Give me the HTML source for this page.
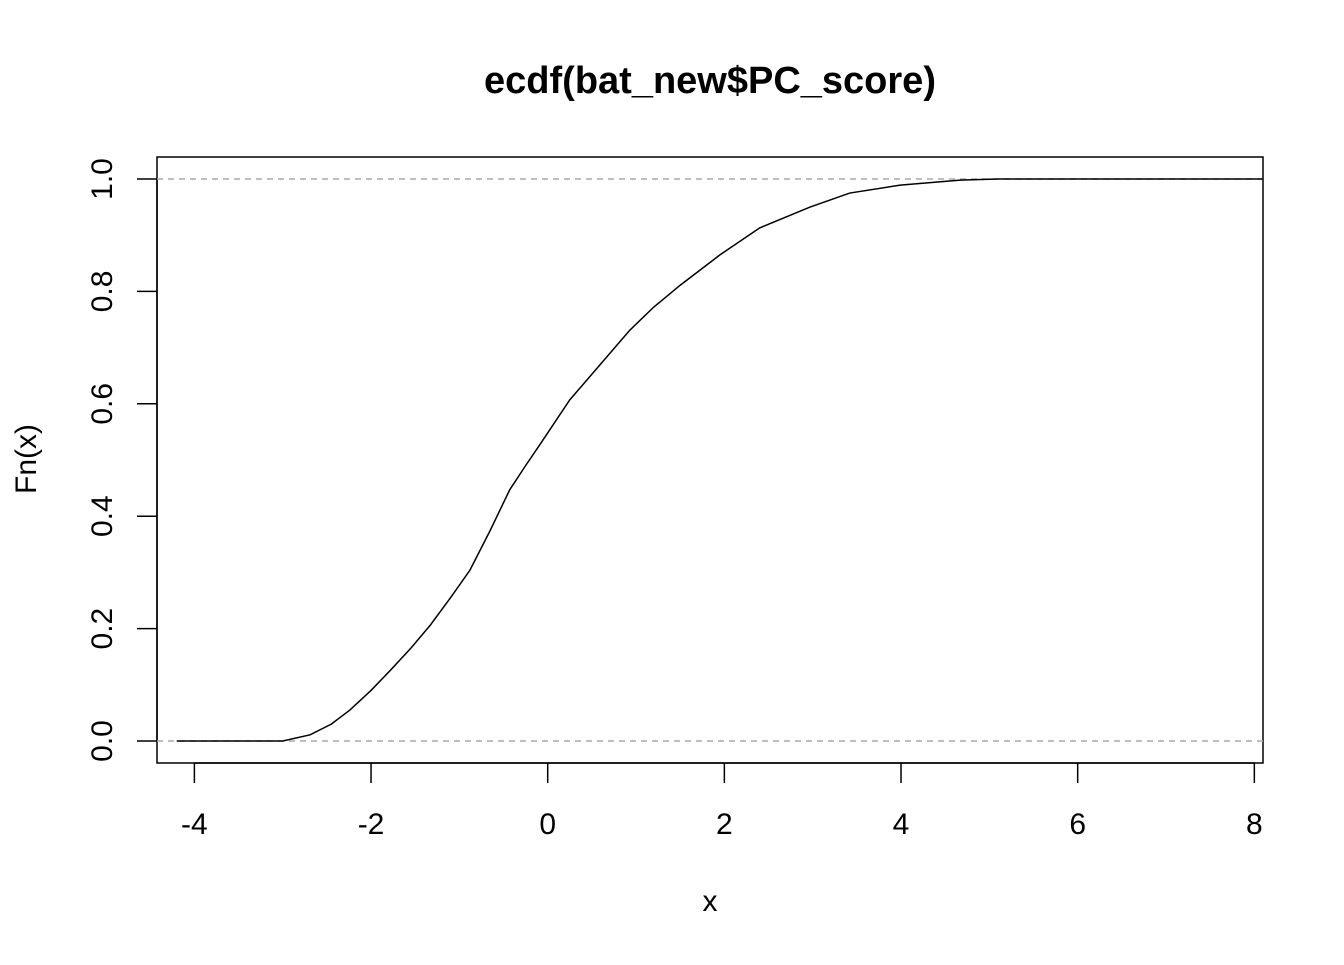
<!DOCTYPE html>
<html><head><meta charset="utf-8"><style>
body{margin:0;background:#fff;}
svg text{font-family:"Liberation Sans",Arial,sans-serif;}
</style></head><body>
<svg id="chart" width="1344" height="960" xmlns="http://www.w3.org/2000/svg">
<rect width="1344" height="960" fill="#fff"/>
<text x="710" y="93" font-size="38" font-weight="bold" text-anchor="middle">ecdf(bat_new$PC_score)</text>
<rect x="157" y="157" width="1106" height="606" fill="none" stroke="#000" stroke-width="1.5"/>
<g id="xaxis"></g>
<g id="yaxis"></g>
<g id="marks"></g>
<text x="710" y="911" font-size="30" text-anchor="middle">x</text>
<text transform="translate(36,459) rotate(-90)" font-size="30" text-anchor="middle">Fn(x)</text>
</svg>
<script>
const xTicks=[-4,-2,0,2,4,6,8];
const yTicks=[0,0.2,0.4,0.6,0.8,1.0];
const xVals=[-4.2,-3.0,-2.69,-2.45,-2.24,-2.0,-1.78,-1.55,-1.33,-1.1,-0.88,-0.65,-0.43,-0.25,-0.09,0.25,0.59,0.93,1.20,1.50,1.95,2.40,2.97,3.42,3.99,4.67,5.1,8.1];
const yVals=[0,0,0.011,0.030,0.055,0.090,0.126,0.165,0.206,0.255,0.304,0.375,0.447,0.490,0.527,0.607,0.669,0.731,0.772,0.811,0.865,0.913,0.950,0.975,0.989,0.998,1.0,1.0];
const NS="http://www.w3.org/2000/svg";
const sx=v=>547.7+v*88.33;
const sy=v=>741-v*562;
function mk(t,a,p){const e=document.createElementNS(NS,t);for(const k in a)e.setAttribute(k,a[k]);p.appendChild(e);return e;}
const xa=document.getElementById('xaxis'),ya=document.getElementById('yaxis'),mg=document.getElementById('marks');
mk('line',{x1:sx(xTicks[0]),x2:sx(xTicks[xTicks.length-1]),y1:763,y2:763,stroke:'#000','stroke-width':1.5},xa);
xTicks.forEach(t=>{
  mk('line',{x1:sx(t),x2:sx(t),y1:763,y2:783,stroke:'#000','stroke-width':1.5},xa);
  const tx=mk('text',{x:sx(t),y:834,'font-size':30,'text-anchor':'middle'},xa);tx.textContent=t;
  
  
});
mk('line',{x1:157,x2:157,y1:sy(0),y2:sy(1),stroke:'#000','stroke-width':1.5},ya);
yTicks.forEach(t=>{
  mk('line',{x1:137,x2:157,y1:sy(t),y2:sy(t),stroke:'#000','stroke-width':1.5},ya);
  const tx=mk('text',{transform:`translate(112,${sy(t)}) rotate(-90)`,'font-size':30,'text-anchor':'middle'},ya);tx.textContent=t.toFixed(1);
  
  
});
[0,1].forEach(v=>{
  const l=mk('line',{x1:157,x2:1263,y1:sy(v),y2:sy(v),stroke:'#aaa','stroke-width':1.5,'stroke-dasharray':'6,5'},mg);
  
  
});
const pts=xVals.map((x,i)=>sx(x)+','+sy(yVals[i])).join(' ');
const pl=mk('polyline',{points:pts,fill:'none',stroke:'#000','stroke-width':1.5},mg);


</script>
</body></html>
